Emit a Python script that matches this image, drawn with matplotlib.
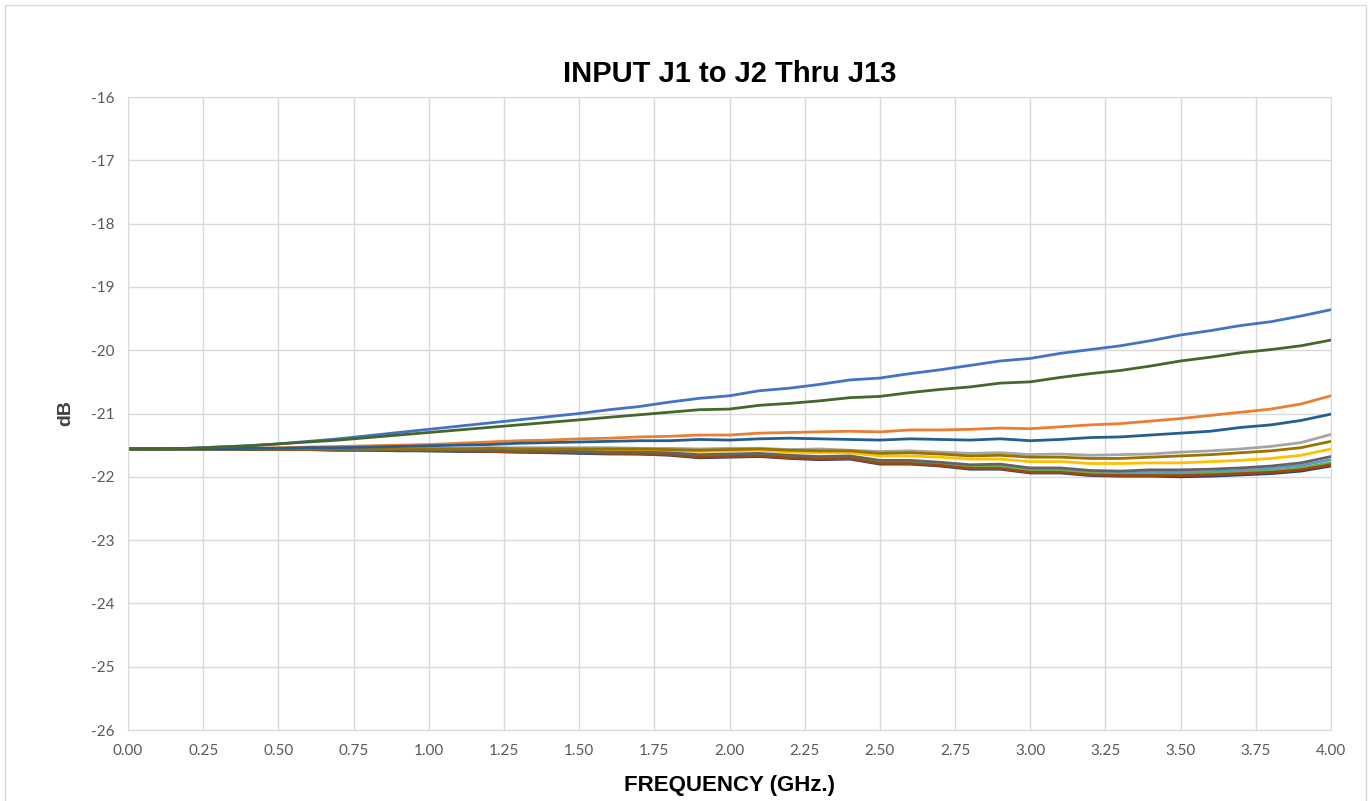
import numpy as np
import matplotlib.pyplot as plt
from matplotlib.patches import Rectangle

plt.rcParams['axes.unicode_minus'] = False

#==========================================================
# Data, 0.1 GHz steps
#==========================================================
freq = [round(0.1 * i, 1) for i in range(41)]

j_blue = [-21.56, -21.56, -21.55, -21.53, -21.51, -21.48, -21.44, -21.40, -21.35, -21.30,
          -21.25, -21.20, -21.15, -21.10, -21.05, -21.00, -20.94, -20.89, -20.82, -20.76,
          -20.72, -20.64, -20.60, -20.54, -20.47, -20.44, -20.37, -20.31, -20.24, -20.17,
          -20.13, -20.05, -19.99, -19.93, -19.85, -19.76, -19.69, -19.61, -19.55, -19.46,
          -19.36]
j_orange = [-21.56, -21.56, -21.56, -21.55, -21.55, -21.54, -21.53, -21.52, -21.51, -21.50,
            -21.49, -21.47, -21.45, -21.43, -21.42, -21.40, -21.39, -21.37, -21.36, -21.34,
            -21.34, -21.31, -21.30, -21.29, -21.28, -21.29, -21.26, -21.26, -21.25, -21.23,
            -21.24, -21.21, -21.18, -21.16, -21.12, -21.08, -21.03, -20.98, -20.93, -20.85,
            -20.72]
j_gray = [-21.56, -21.56, -21.56, -21.56, -21.56, -21.56, -21.56, -21.55, -21.55, -21.55,
          -21.55, -21.55, -21.54, -21.54, -21.54, -21.54, -21.54, -21.55, -21.55, -21.56,
          -21.55, -21.55, -21.57, -21.56, -21.58, -21.60, -21.59, -21.61, -21.63, -21.62,
          -21.65, -21.64, -21.66, -21.65, -21.64, -21.61, -21.59, -21.56, -21.52, -21.46,
          -21.33]
j_gold = [-21.56, -21.56, -21.56, -21.56, -21.56, -21.56, -21.56, -21.56, -21.56, -21.56,
          -21.57, -21.57, -21.56, -21.57, -21.57, -21.57, -21.58, -21.57, -21.58, -21.60,
          -21.59, -21.58, -21.61, -21.62, -21.62, -21.67, -21.67, -21.69, -21.72, -21.72,
          -21.76, -21.76, -21.79, -21.79, -21.78, -21.78, -21.76, -21.74, -21.71, -21.66,
          -21.56]
j_ltblue = [-21.56, -21.56, -21.56, -21.56, -21.56, -21.56, -21.57, -21.57, -21.57, -21.58,
            -21.58, -21.59, -21.59, -21.60, -21.60, -21.61, -21.62, -21.62, -21.64, -21.67,
            -21.66, -21.65, -21.68, -21.70, -21.69, -21.76, -21.76, -21.79, -21.83, -21.83,
            -21.89, -21.89, -21.93, -21.94, -21.93, -21.93, -21.92, -21.90, -21.87, -21.82,
            -21.73]
j_green = [-21.56, -21.56, -21.56, -21.56, -21.56, -21.57, -21.57, -21.57, -21.58, -21.58,
           -21.59, -21.59, -21.60, -21.60, -21.61, -21.62, -21.63, -21.63, -21.65, -21.68,
           -21.67, -21.66, -21.69, -21.71, -21.70, -21.78, -21.78, -21.81, -21.85, -21.85,
           -21.91, -21.91, -21.95, -21.96, -21.96, -21.96, -21.95, -21.93, -21.91, -21.86,
           -21.78]
j_navy = [-21.56, -21.56, -21.56, -21.56, -21.57, -21.57, -21.57, -21.58, -21.58, -21.59,
          -21.59, -21.60, -21.60, -21.61, -21.62, -21.63, -21.64, -21.64, -21.66, -21.70,
          -21.69, -21.68, -21.71, -21.73, -21.72, -21.80, -21.80, -21.83, -21.88, -21.88,
          -21.94, -21.94, -21.98, -21.99, -21.99, -22.00, -21.99, -21.97, -21.95, -21.91,
          -21.83]
j_brown = [-21.56, -21.56, -21.56, -21.56, -21.56, -21.57, -21.57, -21.58, -21.58, -21.58,
           -21.59, -21.59, -21.60, -21.61, -21.61, -21.62, -21.63, -21.64, -21.65, -21.69,
           -21.68, -21.67, -21.70, -21.72, -21.71, -21.79, -21.79, -21.82, -21.87, -21.87,
           -21.93, -21.93, -21.97, -21.98, -21.98, -21.98, -21.97, -21.95, -21.93, -21.89,
           -21.81]
j_dkgray = [-21.56, -21.56, -21.56, -21.56, -21.56, -21.56, -21.56, -21.57, -21.57, -21.57,
            -21.57, -21.58, -21.58, -21.59, -21.59, -21.60, -21.61, -21.61, -21.62, -21.65,
            -21.64, -21.63, -21.66, -21.68, -21.67, -21.74, -21.74, -21.77, -21.81, -21.80,
            -21.86, -21.86, -21.90, -21.91, -21.89, -21.89, -21.88, -21.86, -21.83, -21.78,
            -21.68]
j_dkgold = [-21.56, -21.56, -21.56, -21.56, -21.56, -21.56, -21.56, -21.56, -21.56, -21.56,
            -21.56, -21.56, -21.55, -21.56, -21.56, -21.56, -21.56, -21.56, -21.57, -21.58,
            -21.57, -21.56, -21.58, -21.59, -21.59, -21.63, -21.62, -21.64, -21.67, -21.66,
            -21.69, -21.69, -21.71, -21.71, -21.69, -21.67, -21.65, -21.62, -21.59, -21.54,
            -21.44]
j_steel = [-21.56, -21.56, -21.56, -21.56, -21.55, -21.55, -21.54, -21.54, -21.53, -21.52,
           -21.51, -21.50, -21.49, -21.47, -21.46, -21.45, -21.44, -21.43, -21.43, -21.41,
           -21.42, -21.40, -21.39, -21.40, -21.41, -21.42, -21.40, -21.41, -21.42, -21.40,
           -21.43, -21.41, -21.38, -21.37, -21.34, -21.31, -21.28, -21.22, -21.18, -21.11,
           -21.01]
j_dkgreen = [-21.56, -21.56, -21.55, -21.53, -21.51, -21.48, -21.45, -21.42, -21.38, -21.34,
             -21.30, -21.26, -21.22, -21.18, -21.14, -21.10, -21.06, -21.02, -20.98, -20.94,
             -20.93, -20.87, -20.84, -20.80, -20.75, -20.73, -20.67, -20.62, -20.58, -20.52,
             -20.50, -20.43, -20.37, -20.32, -20.25, -20.17, -20.11, -20.04, -19.99, -19.93,
             -19.84]

series = [j_blue, j_orange, j_gray, j_gold, j_ltblue, j_green,
          j_navy, j_brown, j_dkgray, j_dkgold, j_steel, j_dkgreen]
colors = ['#4472C4', '#ED7D31', '#A5A5A5', '#FFC000', '#5B9BD5', '#70AD47',
          '#264478', '#9E480E', '#636363', '#997300', '#255E91', '#43682B']

y_ticks = [-16, -17, -18, -19, -20, -21, -22, -23, -24, -25, -26]
x_ticks = [0.25 * i for i in range(17)]

#==========================================================
# plot
#==========================================================
fig = plt.figure(figsize=(13.72, 8.01), dpi=100)
fig.patches.append(Rectangle((5/1372, -0.01), 1361/1372, 1.0 - 5/801 + 0.01,
                             transform=fig.transFigure, fill=False,
                             edgecolor='#D9D9D9', linewidth=1.0))

ax = fig.add_axes([128/1372, 1-730/801, 1203/1372, 633/801])

for s, c in zip(series, colors):
    ax.plot(freq, s, color=c, linewidth=2.0, solid_capstyle='round')

ax.set_xlim(0, 4)
ax.set_ylim(-26, -16)
ax.set_xticks(x_ticks)
ax.set_xticklabels(['%.2f' % v for v in x_ticks])
ax.set_yticks(y_ticks)
ax.grid(True, color='#D9D9D9', linewidth=1.0)
ax.set_axisbelow(True)
for sp in ax.spines.values():
    sp.set_color('#D9D9D9')
ax.tick_params(length=0, labelsize=11, labelcolor='#595959', pad=10)
for lab in ax.get_xticklabels() + ax.get_yticklabels():
    lab.set_family('Lato')

ax.set_title('INPUT J1 to J2 Thru J13', fontsize=21, fontweight='bold',
             family='Liberation Sans', pad=11)
ax.set_xlabel('FREQUENCY (GHz.)', fontsize=16, fontweight='bold',
              family='Liberation Sans', labelpad=12)
ax.set_ylabel('dB', fontsize=14, fontweight='bold', color='#404040',
              family='Liberation Sans', labelpad=12)

plt.savefig('out.png', dpi=100)
plt.close()
